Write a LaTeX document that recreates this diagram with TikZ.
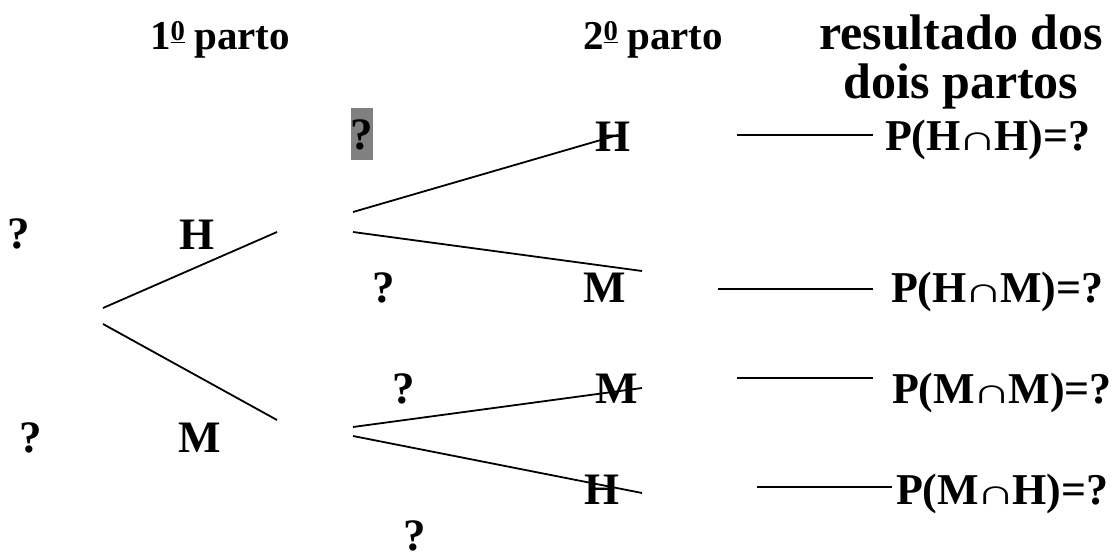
\documentclass[tikz,border=0pt]{standalone}
\usepackage{fontspec}
\setmainfont{Liberation Serif}
\newcommand{\capsym}{\kern-0.07em\scalebox{1.25}[0.8]{\mdseries ∩}\kern-0.07em}
\begin{document}
\begin{tikzpicture}[x=1pt,y=-1pt,
  lbl/.style={inner sep=0pt, outer sep=0pt, anchor=base, font=\bfseries\fontsize{45}{54}\selectfont},
  lblw/.style={lbl, anchor=base west},
  res/.style={lblw, font=\bfseries\fontsize{44}{54}\selectfont},
  hdr/.style={lblw, font=\bfseries\fontsize{41}{50}\selectfont},
  hdrc/.style={lbl, font=\bfseries\fontsize{50}{60}\selectfont},
  branch/.style={line width=1.8pt},
  hilite/.style={lbl, fill=gray, text height=42pt, text depth=10pt}]
\useasboundingbox (0,0) rectangle (1117,556);
% headers
\node[hdr] (h1) at (150,50) {1\textsuperscript{\underline{0}}\hspace{0.22em}parto};
\node[hdr] (h2) at (583,50) {2\textsuperscript{\underline{0}}\hspace{0.22em}parto};
\node[hdrc] (h3a) at (961,50) {resultado dos};
\node[hdrc] (h3b) at (961,99) {dois partos};
% first level
\node[lbl] (q1) at (18.5,249) {?};
\node[lbl] (q2) at (30.5,452) {?};
\node[lbl] (n1H) at (197,250) {H};
\node[lbl] (n1M) at (200,452) {M};
% second level
\node[hilite] (qg) at (362,150) {?};
\node[lbl] (q3) at (383.5,302) {?};
\node[lbl] (q4) at (404,403) {?};
\node[lbl] (q5) at (415,550) {?};
\node[lbl] (n2H) at (613,152) {H};
\node[lbl] (n2M) at (605,302) {M};
\node[lbl] (n3M) at (617,403) {M};
\node[lbl] (n4H) at (602,504) {H};
% results
\node[res] (r1) at (885,151) {P(H\capsym H)=?};
\node[res] (r2) at (891,302) {P(H\capsym M)=?};
\node[res] (r3) at (892,403) {P(M\capsym M)=?};
\node[res] (r4) at (896,504) {P(M\capsym H)=?};
% branch end points
\coordinate (rootA) at (103,308);
\coordinate (rootB) at (103,324);
\coordinate (aH) at (277,232);
\coordinate (aM) at (277,420);
\coordinate (bH1) at (353,212);
\coordinate (bH2) at (353,232);
\coordinate (bM1) at (353,427);
\coordinate (bM2) at (353,436);
\coordinate (e1) at (618,135);
\coordinate (e2) at (642,271);
\coordinate (e3) at (642,388);
\coordinate (e4) at (642,493);
\coordinate (l1a) at (737,135); \coordinate (l1b) at (873,135);
\coordinate (l2a) at (718,289); \coordinate (l2b) at (873,289);
\coordinate (l3a) at (737,378); \coordinate (l3b) at (873,378);
\coordinate (l4a) at (757,487); \coordinate (l4b) at (892,487);
\draw[branch] (rootA) -- (aH);
\draw[branch] (rootB) -- (aM);
\draw[branch] (bH1) -- (e1);
\draw[branch] (bH2) -- (e2);
\draw[branch] (bM1) -- (e3);
\draw[branch] (bM2) -- (e4);
\draw[branch] (l1a) -- (l1b);
\draw[branch] (l2a) -- (l2b);
\draw[branch] (l3a) -- (l3b);
\draw[branch] (l4a) -- (l4b);
\end{tikzpicture}
\end{document}
